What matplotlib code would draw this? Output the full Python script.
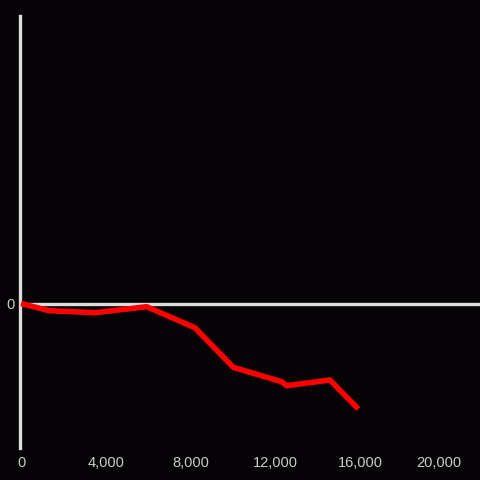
import matplotlib.pyplot as plt
import matplotlib.transforms as mtransforms
from matplotlib.ticker import FuncFormatter

# data (y in arbitrary units, only 0 is labelled)
x_vals = [0, 1330, 3490, 5930, 8200, 8990, 10010, 12290, 12530, 14570, 15910]
y_vals = [0, -7.2, -9.2, -3.2, -24.2, -41.5, -63.8, -78.2, -82.2, -76.5, -105.5]
x_ticks = [0, 4000, 8000, 12000, 16000, 20000]

bg = '#050305'
axis_col = '#dddddd'
label_col = '#cccccc'

plt.rcParams['font.family'] = ['Liberation Sans', 'DejaVu Sans']

fig = plt.figure(figsize=(4.8, 4.8), dpi=100, facecolor=bg)
ax = fig.add_axes([20 / 480, 32 / 480, 460 / 480, 432 / 480])
ax.set_facecolor(bg)

ax.plot(x_vals, y_vals, color='#ff0000', lw=4, solid_capstyle='butt',
        solid_joinstyle='round', zorder=3)
ax.axhline(0, color=axis_col, lw=2.4, zorder=2)

ax.set_xlim(-50, 21650)
ax.set_ylim(-144.5, 287.5)

for s in ['top', 'right', 'bottom']:
    ax.spines[s].set_visible(False)
ax.spines['left'].set_color(axis_col)
ax.spines['left'].set_linewidth(2.4)

ax.set_xticks(x_ticks)
ax.xaxis.set_major_formatter(FuncFormatter(lambda v, p: f"{int(v):,}"))
ax.set_yticks([0])
ax.tick_params(axis='both', length=0, colors=label_col, labelsize=10.5)
ax.tick_params(axis='x', pad=6)
ax.tick_params(axis='y', pad=4)

# last label sits a little to the left in the original
last = ax.get_xticklabels()[-1]
last.set_transform(last.get_transform() +
                   mtransforms.ScaledTranslation(-0.06, 0, fig.dpi_scale_trans))

fig.savefig('out.png', dpi=100, facecolor=bg)
